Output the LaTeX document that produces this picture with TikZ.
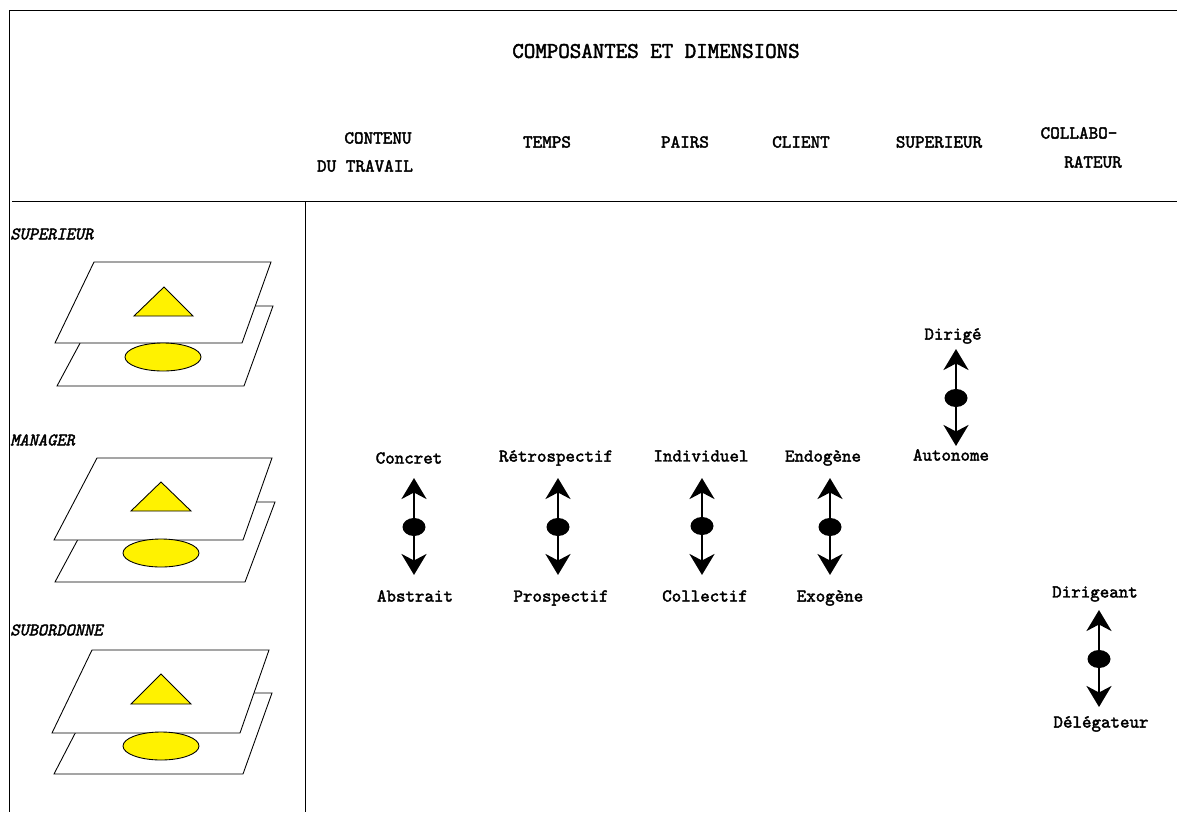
\documentclass[tikz,border=0pt]{standalone}
\usepackage{fontspec}
\usepackage{tikz}
\usetikzlibrary{arrows.meta}
\usetikzlibrary{shapes.geometric}
\newfontfamily\heavymono{Latin Modern Mono}[FakeBold=2.2]
\newfontfamily\heavyslant{Latin Modern Mono}[FakeBold=2.2, FakeSlant=0.22]
\tikzstyle{plane}=[draw, fill=white, line width=0.5pt]
\tikzstyle{figure}=[draw, fill=yellow, line width=0.5pt]
\tikzstyle{title}=[font=\fontsize{12.7}{14}\heavymono, inner sep=0]
\tikzstyle{header}=[font=\fontsize{10.4}{12}\heavymono, inner sep=0]
\tikzstyle{level}=[font=\fontsize{10}{12}\heavyslant, inner sep=0, anchor=west]
\tikzstyle{pole}=[font=\fontsize{10.3}{12}\heavymono, inner sep=0]
\tikzstyle{axisdot}=[ellipse, fill=black, minimum width=0.46cm, minimum height=0.36cm, inner sep=0]
\tikzstyle{axis}=[draw, line width=1.5pt, -{Stealth[length=0.42cm, width=0.5cm, inset=0.13cm]}]

\begin{document}
\begin{tikzpicture}[x=0.02cm, y=-0.02cm]
      %
      \path[use as bounding box] (0,0) rectangle (1177,812);
      %
      % Frame
      %
      \draw[line width=0.5pt] (1177,10) -- (9,10) -- (9,812);
      \draw[line width=0.5pt] (12,201) -- (1177,201);
      \draw[line width=0.5pt] (305,201) -- (305,812);
      %
      % Headers
      %
      \node[title] (composantes) at (656,51) {COMPOSANTES ET DIMENSIONS};
      \node[header] (contenu) at (378,138) {CONTENU};
      \node[header] (travail) at (365,166) {DU TRAVAIL};
      \node[header] (temps) at (547,142) {TEMPS};
      \node[header] (pairs) at (685,142) {PAIRS};
      \node[header] (client) at (801,142) {CLIENT};
      \node[header] (superieur) at (939,142) {SUPERIEUR};
      \node[header] (collabo) at (1079,133) {COLLABO-};
      \node[header] (rateur) at (1093,162) {RATEUR};
      %
      % Superieur layers
      %
      \node[level] (levelsup) at (10,234) {SUPERIEUR};
      \draw[plane] (100,306) -- (273,306) -- (244,386) -- (57,386) -- cycle;
      \draw[plane] (94,262) -- (271,262) -- (242,343) -- (55,343) -- cycle;
      \draw[figure] (163,357) ellipse [x radius=38, y radius=14];
      \draw[figure] (164,287) -- (193,316) -- (134,316) -- cycle;
      %
      % Manager layers
      %
      \node[level] (levelman) at (10,440) {MANAGER};
      \draw[plane] (98,502) -- (275,502) -- (245,582) -- (55,582) -- cycle;
      \draw[plane] (97,458) -- (272,458) -- (243,540) -- (54,540) -- cycle;
      \draw[figure] (161,553) ellipse [x radius=38, y radius=14];
      \draw[figure] (161,482) -- (191,511) -- (131,511) -- cycle;
      %
      % Subordonne layers
      %
      \node[level] (levelsub) at (10,630) {SUBORDONNE};
      \draw[plane] (96,693) -- (272,693) -- (243,774) -- (54,774) -- cycle;
      \draw[plane] (92,650) -- (269,650) -- (240,733) -- (52,733) -- cycle;
      \draw[figure] (161,746) ellipse [x radius=38, y radius=14];
      \draw[figure] (161,674) -- (191,704) -- (131,704) -- cycle;
      %
      % Concret <--> Abstrait
      %
      \node[axisdot] (dotcontenu) at (414,527) {};
      \coordinate[above of=dotcontenu, node distance=0.98cm] (tipconcret);
      \coordinate[below of=dotcontenu, node distance=0.96cm] (tipabstrait);
      \node[pole, above of=dotcontenu, node distance=1.38cm, xshift=-0.1cm] (concret) {Concret};
      \node[pole, below of=dotcontenu, node distance=1.38cm, xshift=0.02cm] (abstrait) {Abstrait};
      \path[axis] (dotcontenu) -- (tipconcret);
      \path[axis] (dotcontenu) -- (tipabstrait);
      %
      % Retrospectif <--> Prospectif
      %
      \node[axisdot] (dottemps) at (558,527) {};
      \coordinate[above of=dottemps, node distance=0.98cm] (tipretro);
      \coordinate[below of=dottemps, node distance=0.96cm] (tippros);
      \node[pole, above of=dottemps, node distance=1.38cm, xshift=-0.04cm] (retro) {Rétrospectif};
      \node[pole, below of=dottemps, node distance=1.42cm, xshift=0.06cm] (pros) {Prospectif};
      \path[axis] (dottemps) -- (tipretro);
      \path[axis] (dottemps) -- (tippros);
      %
      % Individuel <--> Collectif
      %
      \node[axisdot] (dotpairs) at (702,526) {};
      \coordinate[above of=dotpairs, node distance=0.96cm] (tipindiv);
      \coordinate[below of=dotpairs, node distance=0.98cm] (tipcoll);
      \node[pole, above of=dotpairs, node distance=1.40cm, xshift=-0.02cm] (indiv) {Individuel};
      \node[pole, below of=dotpairs, node distance=1.40cm, xshift=0.06cm] (coll) {Collectif};
      \path[axis] (dotpairs) -- (tipindiv);
      \path[axis] (dotpairs) -- (tipcoll);
      %
      % Endogene <--> Exogene
      %
      \node[axisdot] (dotclient) at (830,527) {};
      \coordinate[above of=dotclient, node distance=0.98cm] (tipendo);
      \coordinate[below of=dotclient, node distance=0.96cm] (tipexo);
      \node[pole, above of=dotclient, node distance=1.38cm, xshift=-0.14cm] (endo) {Endogène};
      \node[pole, below of=dotclient, node distance=1.42cm] (exo) {Exogène};
      \path[axis] (dotclient) -- (tipendo);
      \path[axis] (dotclient) -- (tipexo);
      %
      % Dirige <--> Autonome
      %
      \node[axisdot] (dotsuperieur) at (956,398) {};
      \coordinate[above of=dotsuperieur, node distance=0.98cm] (tipdirige);
      \coordinate[below of=dotsuperieur, node distance=0.96cm] (tipauto);
      \node[pole, above of=dotsuperieur, node distance=1.24cm, xshift=-0.06cm] (dirige) {Dirigé};
      \node[pole, below of=dotsuperieur, node distance=1.14cm, xshift=-0.1cm] (auto) {Autonome};
      \path[axis] (dotsuperieur) -- (tipdirige);
      \path[axis] (dotsuperieur) -- (tipauto);
      %
      % Dirigeant <--> Delegateur
      %
      \node[axisdot] (dotcollabo) at (1099,659) {};
      \coordinate[above of=dotcollabo, node distance=0.98cm] (tipdirigeant);
      \coordinate[below of=dotcollabo, node distance=0.96cm] (tipdeleg);
      \node[pole, above of=dotcollabo, node distance=1.30cm, xshift=-0.08cm] (dirigeant) {Dirigeant};
      \node[pole, below of=dotcollabo, node distance=1.30cm, xshift=0.04cm] (deleg) {Délégateur};
      \path[axis] (dotcollabo) -- (tipdirigeant);
      \path[axis] (dotcollabo) -- (tipdeleg);
      %
\end{tikzpicture}
\end{document}
